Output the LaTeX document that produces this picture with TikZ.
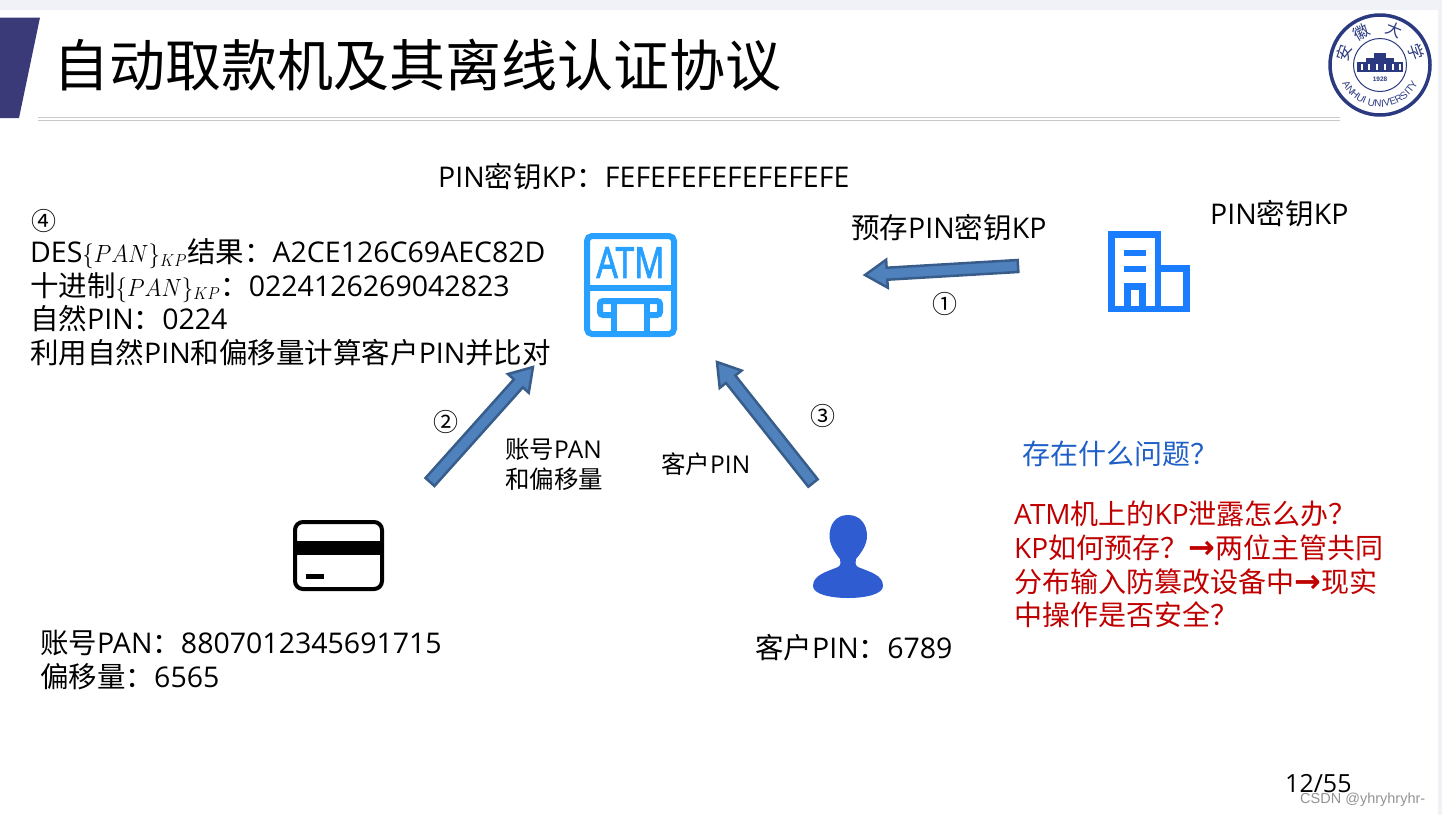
\documentclass[tikz,border=0pt]{standalone}
\usepackage{fontspec}
\usepackage{xcolor}
\usetikzlibrary{calc,positioning,decorations.text}
\setmainfont{Noto Sans CJK SC}
\newfontfamily\latfont{Open Sans}
\newfontfamily\markfont{Liberation Sans}
\newfontfamily\atmfont[FakeBold=2]{Noto Sans}
\newfontfamily\pointfont{DejaVu Sans}
\newcommand{\lat}[1]{{\latfont #1}}
\newcommand{\pan}{\scalebox{.92}[1]{\fontsize{24.5}{33.5}\selectfont$\{PAN\}_{KP}$}}
\newcommand{\tosign}{{\pointfont\bfseries\fontsize{32}{33.7}\selectfont →}}
\definecolor{ABand}{HTML}{F0F2F7}
\definecolor{ATab}{HTML}{3A3A78}
\definecolor{ARule}{HTML}{C9C9C9}
\definecolor{ALogo}{HTML}{2B3A80}
\definecolor{AAtm}{HTML}{27A0FF}
\definecolor{ABuild}{HTML}{1A7CFF}
\definecolor{APerson}{HTML}{2F5CD1}
\definecolor{AArrow}{HTML}{4F81BD}
\definecolor{AArrowEdge}{HTML}{385D8A}
\definecolor{AAsk}{HTML}{1F5FC8}
\definecolor{ARed}{HTML}{C00000}
\tikzset{
  label29/.style={inner sep=0pt, anchor=base west, font=\fontsize{28.5}{33.5}\selectfont},
  label24/.style={inner sep=0pt, anchor=base west, font=\fontsize{24.5}{30}\selectfont},
  stepno/.style={inner sep=0pt, font=\fontsize{25}{30}\selectfont},
  blockarrow/.style={draw=AArrowEdge, line width=2.5pt, fill=AArrow, line join=miter},
}
\newcommand{\blockarrow}[2]{
  \coordinate (#1neck) at ($(#2)!22pt!(#1)$);
  \draw[blockarrow] ($(#1)!6pt!90:(#2)$) -- ($(#1neck)!6pt!90:(#2)$) -- ($(#1neck)!14pt!90:(#2)$) -- (#2)
    -- ($(#1neck)!14pt!-90:(#2)$) -- ($(#1neck)!6pt!-90:(#2)$) -- ($(#1)!6pt!-90:(#2)$) -- cycle;
}
\begin{document}
\begin{tikzpicture}[x=1pt,y=-1pt]
\useasboundingbox (0,0) rectangle (1442,815);
\fill[ABand] (0,0) rectangle (1442,10);
\fill[ABand] (1438,0) rectangle (1442,815);
\fill[ATab] (0,17.5) -- (40,17.5) -- (19,118) -- (0,118) -- cycle;
\draw[ARule, line width=1pt] (38,117) -- (1340,117);
\draw[ARule, line width=1pt] (38,120) -- (1340,120);
\node[inner sep=0pt, anchor=base west, font=\fontsize{56}{60}\selectfont] (title) at (53,86) {自动取款机及其离线认证协议};

\coordinate (logo) at (1380,65);
\draw[ALogo, line width=3.5pt] (logo) circle[radius=50pt];
\draw[ALogo, line width=1pt] (logo) circle[radius=26.5pt];
\fill[ALogo] (1357,62) rectangle (1403,72);
\fill[ALogo] (1366,58) rectangle (1394,72);
\fill[ALogo] (1374,53) rectangle (1386,72);
\foreach \x in {1361,1368,1376,1384,1392,1399}{
  \fill[white] (\x,64) rectangle (\x+1.5,70);
}
\foreach \i/\a/\c in {1/162/安,2/120/徽,3/68/大,4/20/学}{
  \pgfmathsetmacro{\r}{\a-90}
  \node[inner sep=0pt, text=ALogo, rotate=\r, font=\fontsize{16}{16}\selectfont] (logoA\i) at ($(logo)+(\a:38pt)$) {\c};
}
\path[decorate, decoration={text along path, text align=center,
    text={|\markfont\fontsize{10}{10}\selectfont\color{ALogo}|ANHUI UNIVERSITY}}]
  ($(logo)+(205:42pt)$) arc[start angle=205, end angle=335, radius=42pt];
\node[inner sep=0pt, text=ALogo, font=\markfont\bfseries\fontsize{6.5}{7}\selectfont] (logoYear) at (1380,79) {1928};

\node[label29] (keyATM) at (438,187) {\lat{PIN}密钥\lat{KP}：\lat{FEFEFEFEFEFEFEFE}};
\node[stepno] (stepD) at (44,221) {④};
\node[label29, align=left, anchor=north west] (desText) at (30,238.5) {\lat{DES}\pan 结果：\lat{A2CE126C69AEC82D}\\
  十进制\pan：\lat{0224126269042823}\\
  自然\lat{PIN}：\lat{0224}\\
  利用自然\lat{PIN}和偏移量计算客户\lat{PIN}并比对};
\node[label29] (preKP) at (851,238) {预存\lat{PIN}密钥\lat{KP}};
\node[label29] (keyBank) at (1210,224) {\lat{PIN}密钥\lat{KP}};
\node[stepno] (stepA) at (945,304) {①};
\node[stepno] (stepB) at (446,422) {②};
\node[stepno] (stepC) at (823,416) {③};
\node[label24, align=left, anchor=north west] (panLabel) at (505,438.5) {账号\lat{PAN}\\和偏移量};
\node[label24] (pinLabel) at (661,473) {客户\lat{PIN}};
\node[label29, text=AAsk, font=\fontsize{28}{30}\selectfont] (ask) at (1022,464) {存在什么问题？};
\node[label29, text=ARed, align=left, anchor=north west, font=\fontsize{28}{33.7}\selectfont] (answer) at (1014,501)
  {\lat{ATM}机上的\lat{KP}泄露怎么办？\\ \lat{KP}如何预存？\tosign 两位主管共同\\分布输入防篡改设备中\tosign 现实\\中操作是否安全？};
\node[label29, align=left, anchor=north west] (panText) at (40,630) {账号\lat{PAN}：\lat{8807012345691715}\\偏移量：\lat{6565}};
\node[label29] (pinText) at (755,658) {客户\lat{PIN}：\lat{6789}};
\node[label24, font=\latfont\fontsize{25}{30}\selectfont] (pageNo) at (1285,792) {12/55};
\node[inner sep=0pt, anchor=base west, text=gray!85, font=\markfont\fontsize{14.5}{16}\selectfont] (mark) at (1300,803) {CSDN @yhryhryhr-};

\draw[AAtm, line width=6pt, rounded corners=5pt] (587,236) rectangle (674,334);
\draw[AAtm, line width=6pt] (587,288) -- (674,288);
\node[inner sep=0pt, text=AAtm, xscale=.78, font=\atmfont\bfseries\fontsize{43}{44}\selectfont] (atmWord) at (630.5,262.5) {ATM};
\draw[AAtm, line width=6pt, rounded corners=3pt] (613.5,315) -- (600,315) -- (600,301) -- (660,301) -- (660,315) -- (646.5,315);
\draw[AAtm, line width=6pt] (613.5,301) -- (613.5,334) (646.5,301) -- (646.5,334);

\draw[ABuild, line width=6.5pt, line join=miter] (1158,309) -- (1158,234.5) -- (1111.5,234.5) -- (1111.5,309) -- (1186.5,309) -- (1186.5,268.5) -- (1158,268.5);
\draw[ABuild, line width=6.5pt] (1124,253) -- (1146,253) (1124,269) -- (1146,269);
\draw[ABuild, line width=6.5pt, line join=miter] (1127.5,309) -- (1127.5,286.5) -- (1142.5,286.5) -- (1142.5,309);

\draw[black, line width=4pt, rounded corners=8pt] (295,522) rectangle (382,589);
\fill[black] (295,541) rectangle (382,555);
\fill[black] (306,574) rectangle (324,579);

\fill[APerson] (848,515) .. controls (836,515) and (829.5,524) .. (829.5,536)
  .. controls (829.5,545) and (835,553) .. (840,559) .. controls (841,562) and (841,565) .. (838,567)
  .. controls (826,572) and (813,575) .. (813,586) .. controls (813,594) and (830,598) .. (848,598)
  .. controls (866,598) and (883,594) .. (883,586) .. controls (883,575) and (870,572) .. (858,567)
  .. controls (855,565) and (855,562) .. (856,559) .. controls (861,553) and (867,545) .. (867,536)
  .. controls (867,524) and (860,515) .. (848,515) -- cycle;

\coordinate (arrowAs) at (1018,266);
\coordinate (arrowAe) at (865,275);
\coordinate (arrowBs) at (430,482);
\coordinate (arrowBe) at (533,367);
\coordinate (arrowCs) at (813,483);
\coordinate (arrowCe) at (717,362);
\blockarrow{arrowAs}{arrowAe}
\blockarrow{arrowBs}{arrowBe}
\blockarrow{arrowCs}{arrowCe}
\end{tikzpicture}
\end{document}
